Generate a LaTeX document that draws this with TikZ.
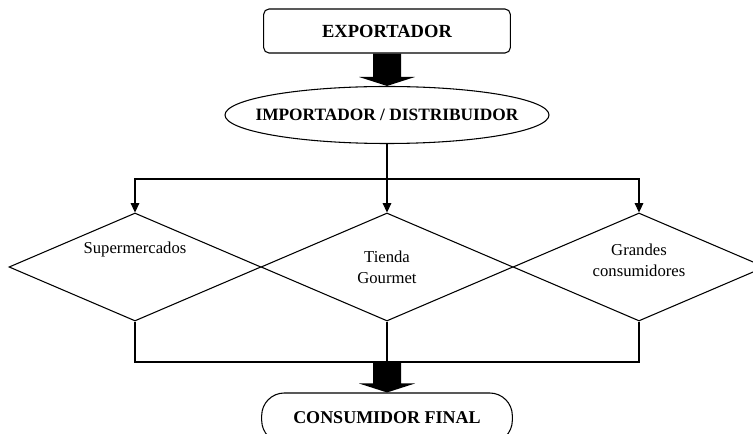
\documentclass[tikz,border=0pt]{standalone}
\usepackage{fontspec}
\setmainfont{Liberation Serif}
\usetikzlibrary{arrows.meta,positioning,shapes.geometric,calc}

\begin{document}
\begin{tikzpicture}[
    x=0.75pt, y=-0.75pt,
    line width=0.8pt,
    topbox/.style={rectangle, draw, rounded corners=4pt, minimum width=185pt,
                   minimum height=33pt, inner sep=0pt,
                   font=\bfseries\fontsize{13.9}{16}\selectfont},
    oval/.style={ellipse, draw, minimum width=243pt, minimum height=42.75pt,
                 inner xsep=-20pt, inner ysep=0pt,
                 font=\bfseries\fontsize{13}{16}\selectfont},
    endbox/.style={rectangle, draw, rounded corners=17pt, minimum width=188pt,
                   minimum height=37.5pt, inner sep=0pt,
                   font=\bfseries\fontsize{13.5}{16}\selectfont},
    channel/.style={diamond, draw, minimum width=189pt, minimum height=81pt,
                    inner sep=0pt},
    lbl/.style={align=center, font=\fontsize{12.5}{15.5}\selectfont},
    arrow/.style={-{Triangle[length=7pt, width=6.5pt]}},
    fat/.style={fill=black}
]
\useasboundingbox (0,0) rectangle (753,434);
\clip (0,0) rectangle (753,434);

\node[topbox] (exp) at (387,31) {EXPORTADOR};
\node[oval] (imp) at (387,115) {IMPORTADOR / DISTRIBUIDOR};

\node[channel] (super) at (135,267) {};
\node[channel] (tienda) at (387,267) {};
\node[channel] (grandes) at (639,267) {};
\node[lbl] (lsuper) at ($(super)+(0,-18)$) {Supermercados};
\node[lbl] (ltienda) at (tienda) {Tienda\\Gourmet};
\node[lbl] (lgrandes) at ($(grandes)+(0,-7)$) {Grandes\\consumidores};

\node[endbox] (cons) at (387,418) {CONSUMIDOR FINAL};

% exporter -> importer
\fill[fat] let \p1=(exp.south), \p2=(imp.north) in
  (\x1-10.5pt,\y1) -- (\x1+10.5pt,\y1) -- (\x1+10.5pt,\y2+6.75pt)
  -- (\x1+21pt,\y2+6.75pt) -- (\x2,\y2) -- (\x1-21pt,\y2+6.75pt)
  -- (\x1-10.5pt,\y2+6.75pt) -- cycle;

% importer -> channels
\coordinate (split) at (387,179);
\draw (imp.south) -- (split);
\draw[arrow] (split) -| (super.north);
\draw[arrow] (split) -- (tienda.north);
\draw[arrow] (split) -| (grandes.north);

% channels -> final consumer
\coordinate (join) at (387,362);
\draw (super.south) |- (join);
\draw (grandes.south) |- (join);
\draw (tienda.south) -- (join);
\fill[fat] let \p1=(join), \p2=(cons.north) in
  (\x1-10.5pt,\y1) -- (\x1+10.5pt,\y1) -- (\x1+10.5pt,\y2+6.75pt)
  -- (\x1+21pt,\y2+6.75pt) -- (\x2,\y2) -- (\x1-21pt,\y2+6.75pt)
  -- (\x1-10.5pt,\y2+6.75pt) -- cycle;
\end{tikzpicture}
\end{document}
